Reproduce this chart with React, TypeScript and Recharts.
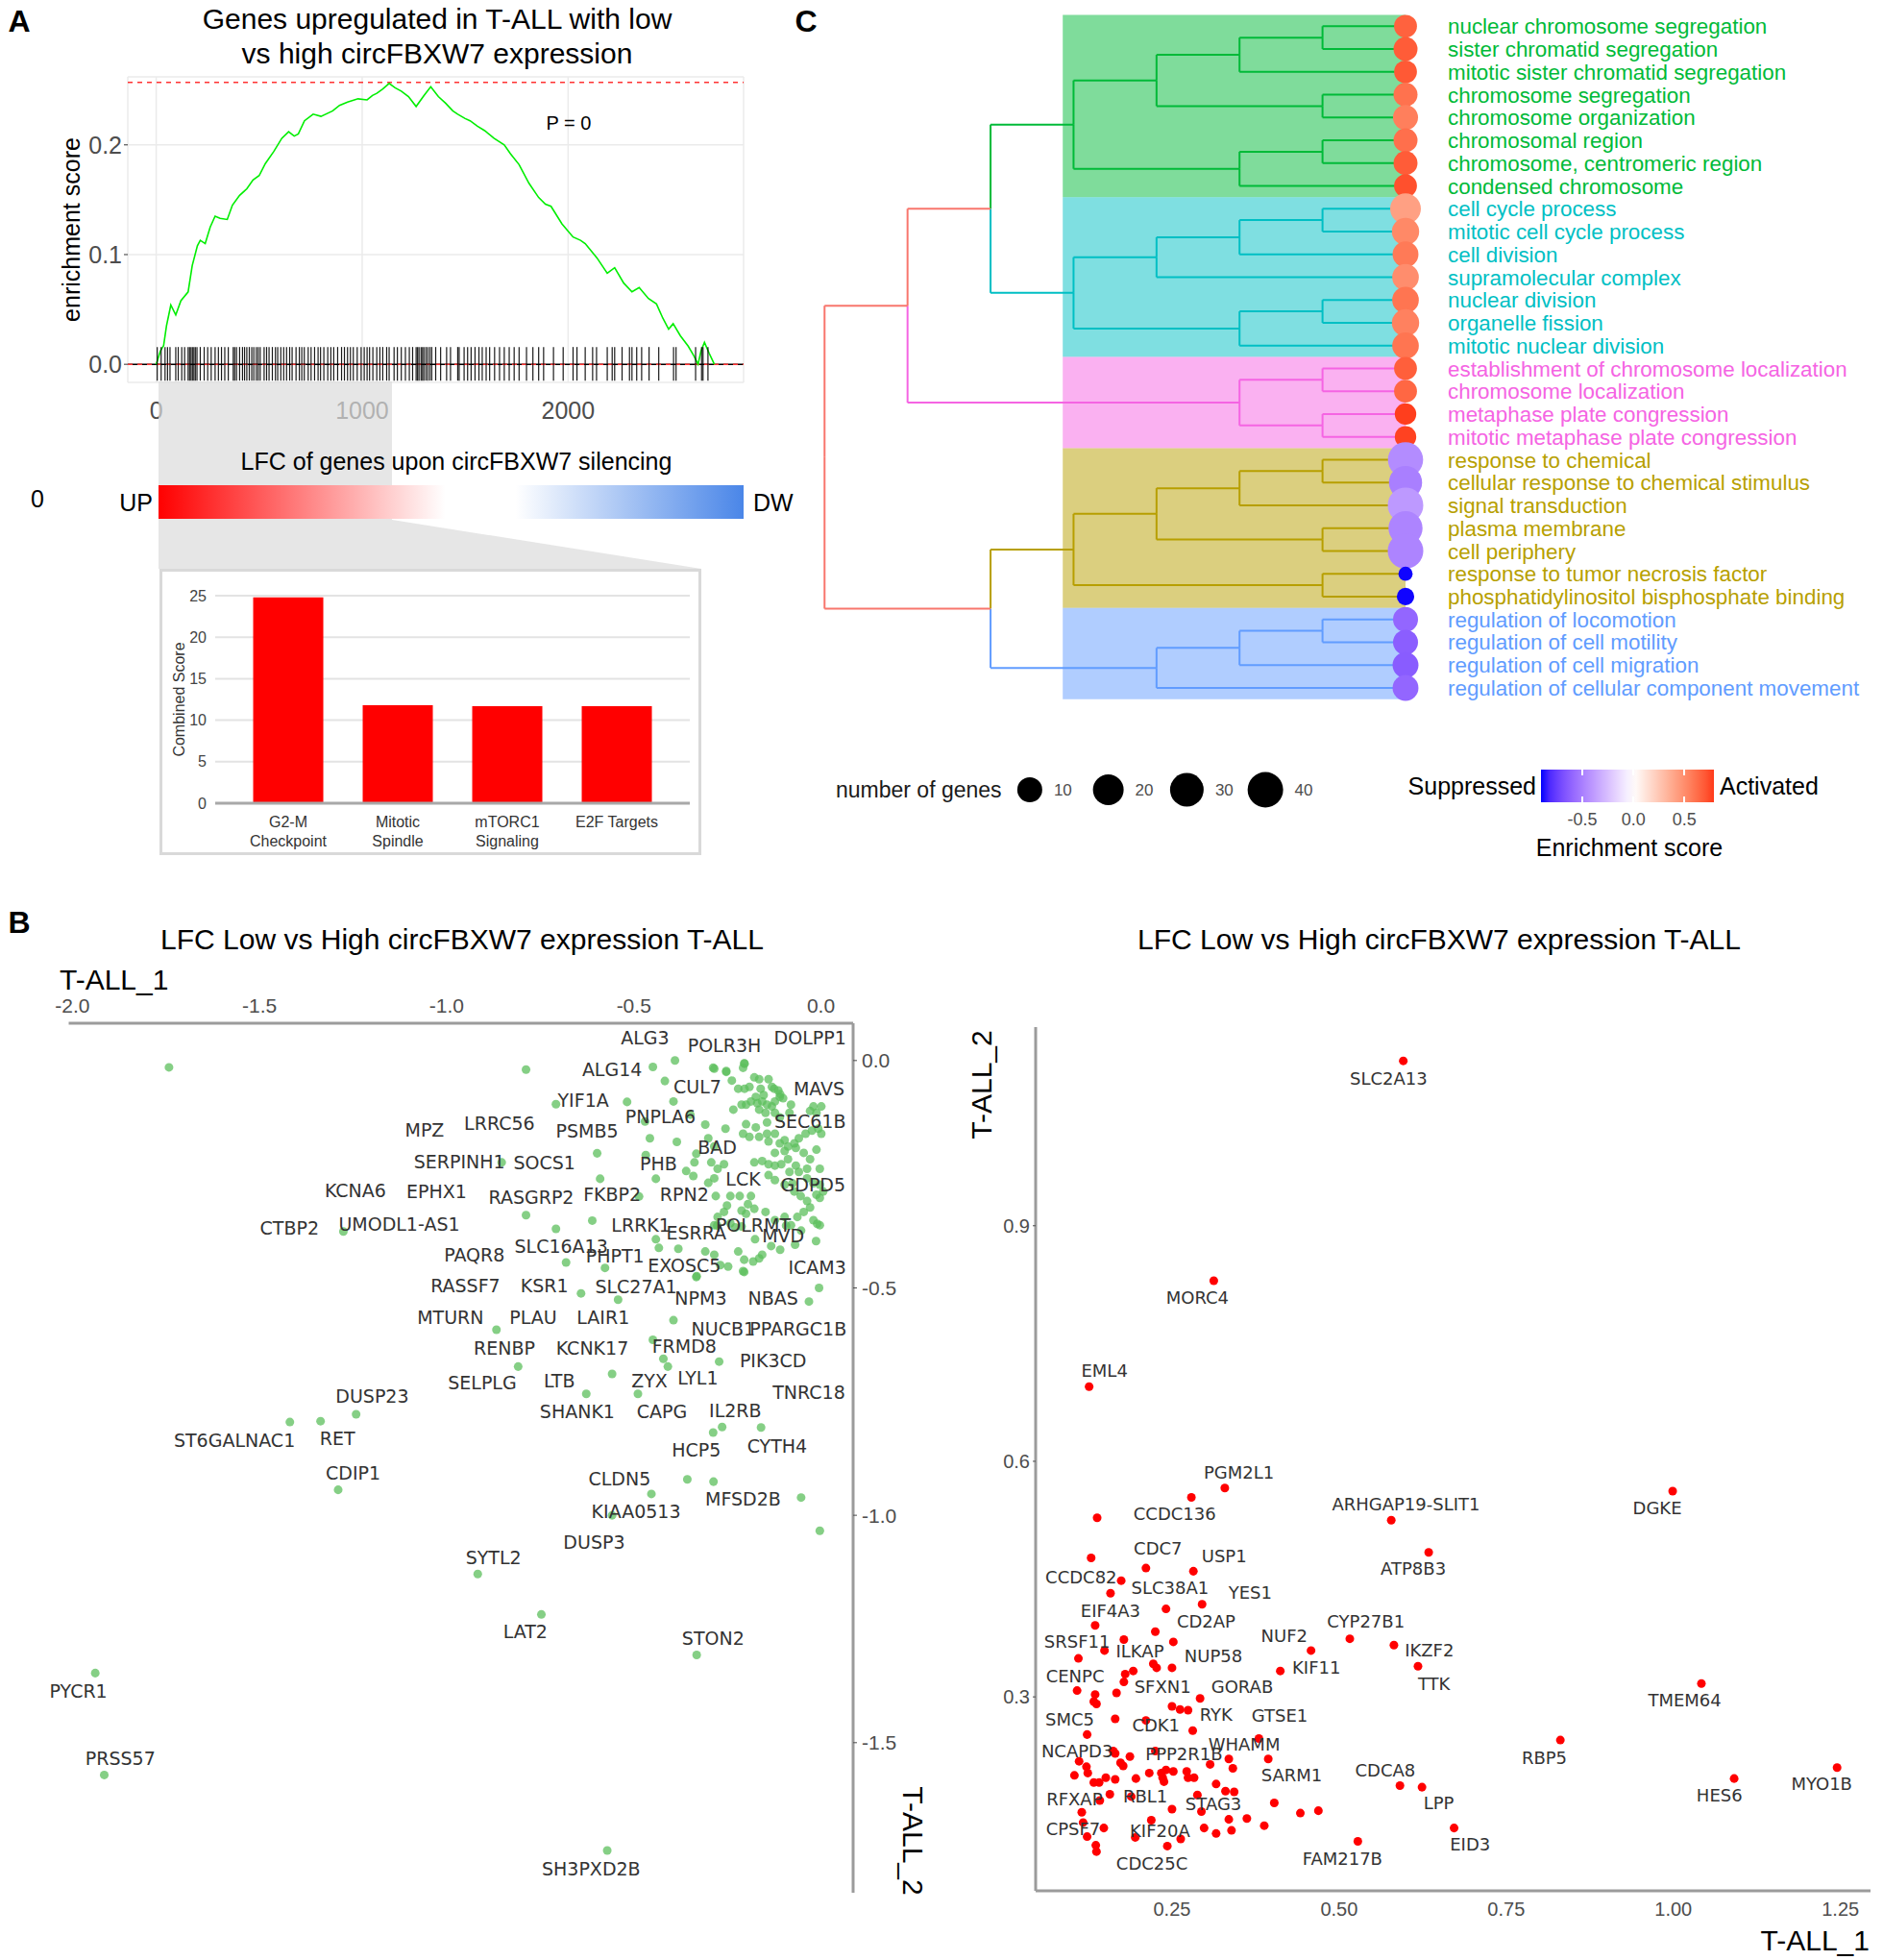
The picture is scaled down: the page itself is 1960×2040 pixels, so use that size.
import React from "react";
import {
  ComposedChart,
  BarChart,
  ScatterChart,
  Line,
  Bar,
  Scatter,
  Cell,
  XAxis,
  YAxis,
  ZAxis,
  CartesianGrid,
  ReferenceLine,
  ReferenceArea,
} from "recharts";

const SANS = '"Liberation Sans", Arial, sans-serif';
const DEJAVU = '"DejaVu Sans", sans-serif';

type Pt = [number, number];
type Lab = [string, number, number];

// ---------- panel A: running enrichment score (rank, ES)
const esCurve: Pt[] = [
  [0, 0], [20, 0.012], [36, 0.017], [50, 0.035], [71, 0.054], [95, 0.045], [120, 0.058],
  [155, 0.066], [175, 0.09], [200, 0.108], [214, 0.113], [238, 0.11], [262, 0.125],
  [286, 0.135], [310, 0.133], [345, 0.132], [370, 0.145], [405, 0.154], [440, 0.16],
  [470, 0.168], [500, 0.172], [530, 0.183], [571, 0.194], [610, 0.206], [643, 0.212],
  [670, 0.208], [690, 0.21], [720, 0.222], [762, 0.228], [800, 0.226], [857, 0.231],
  [890, 0.236], [929, 0.239], [980, 0.242], [1024, 0.241], [1050, 0.245], [1071, 0.247],
  [1100, 0.251], [1131, 0.256], [1160, 0.252], [1190, 0.249], [1225, 0.244], [1262, 0.235],
  [1300, 0.245], [1333, 0.253], [1370, 0.244], [1405, 0.238], [1440, 0.231], [1464, 0.228],
  [1500, 0.224], [1524, 0.222], [1560, 0.217], [1595, 0.213], [1640, 0.206], [1690, 0.2],
  [1720, 0.192], [1762, 0.182], [1810, 0.165], [1857, 0.152], [1890, 0.146], [1917, 0.144],
  [1970, 0.128], [2024, 0.116], [2060, 0.113], [2083, 0.11], [2140, 0.097], [2190, 0.083],
  [2226, 0.088], [2270, 0.074], [2310, 0.066], [2345, 0.07], [2390, 0.06], [2429, 0.055],
  [2460, 0.042], [2488, 0.032], [2510, 0.037], [2545, 0.026], [2583, 0.0165], [2610, 0.008],
  [2631, 0], [2645, 0.012], [2662, 0.02], [2685, 0.01], [2710, 0],
];
const esPeak = 0.257;
const hitRanks = [
  5, 24, 43, 55, 67, 95, 107, 124, 138, 155, 162, 169, 176, 183, 190, 198, 214, 233, 250,
  267, 286, 302, 317, 333, 350, 374, 381, 390, 405, 419, 429, 440, 452, 464, 474, 486, 495,
  505, 524, 536, 548, 564, 579, 590, 605, 619, 633, 648, 660, 679, 695, 707, 719, 738, 752,
  769, 786, 798, 814, 833, 848, 862, 881, 900, 914, 929, 943, 957, 976, 995, 1010, 1024,
  1036, 1052, 1071, 1086, 1100, 1119, 1131, 1155, 1171, 1190, 1210, 1229, 1245, 1262, 1269,
  1276, 1286, 1293, 1300, 1310, 1319, 1329, 1338, 1357, 1381, 1410, 1429, 1464, 1471, 1495,
  1512, 1529, 1548, 1567, 1583, 1602, 1619, 1643, 1667, 1690, 1714, 1738, 1762, 1798, 1829,
  1857, 1881, 1929, 1976, 2024, 2043, 2083, 2119, 2138, 2190, 2214, 2226, 2262, 2298, 2310,
  2333, 2357, 2393, 2440, 2512, 2524, 2619, 2648, 2655, 2679,
];
const esTicksX = [0, 1000, 2000];
const esTicksY = [0, 0.1, 0.2];

// ---------- panel A: hallmark enrichment
const hallmarkNames = ["G2-M\nCheckpoint", "Mitotic\nSpindle", "mTORC1\nSignaling", "E2F Targets"];
const hallmarkScores = [24.8, 11.8, 11.7, 11.7];
const scoreTicks = [0, 5, 10, 15, 20, 25];

// ---------- panel C: GO term tree
const termNames = [
  "nuclear chromosome segregation", "sister chromatid segregation",
  "mitotic sister chromatid segregation", "chromosome segregation", "chromosome organization",
  "chromosomal region", "chromosome, centromeric region", "condensed chromosome",
  "cell cycle process", "mitotic cell cycle process", "cell division", "supramolecular complex",
  "nuclear division", "organelle fission", "mitotic nuclear division",
  "establishment of chromosome localization", "chromosome localization",
  "metaphase plate congression", "mitotic metaphase plate congression", "response to chemical",
  "cellular response to chemical stimulus", "signal transduction", "plasma membrane",
  "cell periphery", "response to tumor necrosis factor",
  "phosphatidylinositol bisphosphate binding", "regulation of locomotion",
  "regulation of cell motility", "regulation of cell migration",
  "regulation of cellular component movement",
];
const termCluster = [0, 0, 0, 0, 0, 0, 0, 0, 1, 1, 1, 1, 1, 1, 1, 2, 2, 2, 2, 3, 3, 3, 3, 3, 3, 3, 4, 4, 4, 4];
const termGenes = [8, 9, 8, 9, 10, 9, 9, 8, 20, 13, 11, 12, 12, 13, 12, 8, 8, 7, 7, 38, 28, 40, 32, 40, 4, 5, 10, 10, 11, 11];
const termES = [
  0.67, 0.69, 0.7, 0.61, 0.56, 0.62, 0.69, 0.73, 0.42, 0.52, 0.58, 0.5, 0.6, 0.55, 0.6,
  0.68, 0.65, 0.78, 0.77, -0.45, -0.5, -0.4, -0.48, -0.48, -0.9, -0.9, -0.6, -0.63, -0.64, -0.6,
];
// [child a, child b, height]; leaves are 0..29, merged nodes continue from 30
const merges: [number, number, number][] = [
  [0, 1, 1], [30, 2, 2], [3, 4, 1], [31, 32, 3], [5, 6, 1], [34, 7, 2], [33, 35, 4],
  [8, 9, 1], [37, 10, 2], [38, 11, 3], [12, 13, 1], [40, 14, 2], [39, 41, 4], [36, 42, 5],
  [15, 16, 1], [17, 18, 1], [44, 45, 2], [43, 46, 6],
  [19, 20, 1], [48, 21, 2], [22, 23, 1], [49, 50, 3], [24, 25, 1], [51, 52, 4],
  [26, 27, 1], [54, 28, 2], [55, 29, 3], [53, 56, 5], [47, 57, 7],
];
const clusterColors = ["#00BA38", "#00BFC4", "#F564E3", "#B79F00", "#619CFF"];
const rootColor = "#F8766D";
const geneSizeKeys = [10, 20, 30, 40];
const esBarTicks = [-0.5, 0, 0.5];

// ---------- panel B left: T-ALL_1 vs T-ALL_2 (down)
const greenPts: Pt[] = [
  [-1.742, -0.015], [-0.788, -0.02], [-1.276, -0.376], [-0.788, -0.34], [-0.708, -0.096],
  [-0.518, -0.091], [-0.853, -0.224], [-0.598, -0.204], [-0.59, -0.26], [-0.611, -0.352],
  [-0.708, -0.37], [-0.681, -0.444], [-0.577, -0.456], [-0.641, -0.512], [-0.542, -0.526],
  [-0.867, -0.592], [-0.394, -0.571], [-0.809, -0.673], [-0.558, -0.689], [-0.449, -0.614],
  [-0.421, -0.656], [-0.409, -0.673], [-0.272, -0.662], [-0.627, -0.733], [-0.489, -0.733],
  [-1.242, -0.778], [-1.419, -0.795], [-1.337, -0.793], [-0.16, -0.807], [-0.005, -0.5],
  [-0.032, -0.53], [-0.332, -0.474], [-0.205, -0.465], [-0.449, -0.014], [-0.39, 0],
  [-0.417, -0.045], [-0.394, -0.09], [-0.47, -0.134], [-0.457, -0.171], [-0.385, -0.179],
  [-0.468, -0.208], [-0.441, -0.26], [-0.36, -0.243], [-0.338, -0.224], [-0.486, -0.299],
  [-0.441, -0.393], [-0.381, -0.414], [-0.433, -0.412], [-0.288, -0.016], [-0.205, -0.006],
  [-0.253, -0.025], [-1.29, -0.944], [-0.288, -0.818], [-0.264, -0.806], [-0.357, -0.921],
  [-0.287, -0.926], [-0.453, -0.953], [-0.053, -0.961], [-0.558, -1.0], [-0.003, -1.034],
  [-0.917, -1.129], [-0.747, -1.218], [-0.332, -1.307], [-1.939, -1.347], [-1.915, -1.571],
  [-0.571, -1.737],
  [-0.204, -0.007], [-0.285, -0.018], [-0.253, -0.023], [-0.208, -0.016], [-0.178, -0.037],
  [-0.165, -0.041], [-0.14, -0.041], [-0.238, -0.044], [-0.221, -0.062], [-0.204, -0.062],
  [-0.191, -0.058], [-0.161, -0.062], [-0.131, -0.058], [-0.114, -0.066], [-0.11, -0.08],
  [-0.101, -0.083], [-0.153, -0.076], [-0.174, -0.08], [-0.187, -0.09], [-0.2, -0.097],
  [-0.212, -0.097], [-0.234, -0.108], [-0.17, -0.094], [-0.157, -0.09], [-0.144, -0.097],
  [-0.131, -0.101], [-0.123, -0.09], [-0.08, -0.097], [-0.02, -0.101], [0.001, -0.101],
  [-0.012, -0.115], [-0.029, -0.111], [-0.148, -0.115], [-0.165, -0.108], [-0.123, -0.115],
  [-0.11, -0.125], [-0.084, -0.115], [-0.2, -0.14], [-0.174, -0.147], [-0.144, -0.136],
  [-0.255, -0.15], [-0.208, -0.161], [-0.191, -0.168], [-0.165, -0.168], [-0.144, -0.161],
  [-0.123, -0.161], [-0.097, -0.175], [-0.088, -0.189], [-0.071, -0.182], [-0.059, -0.171],
  [-0.041, -0.161], [-0.024, -0.154], [-0.007, -0.15], [0.001, -0.161], [-0.067, -0.192],
  [-0.046, -0.203], [-0.012, -0.196], [-0.11, -0.182], [-0.097, -0.199], [-0.14, -0.178],
  [-0.123, -0.203], [-0.178, -0.224], [-0.157, -0.221], [-0.14, -0.228], [-0.123, -0.231],
  [-0.106, -0.228], [-0.088, -0.217], [-0.067, -0.231], [-0.084, -0.245], [-0.059, -0.245],
  [-0.037, -0.238], [-0.003, -0.238], [-0.029, -0.217], [-0.285, -0.189], [-0.276, -0.238],
  [-0.285, -0.259], [-0.259, -0.228], [-0.14, -0.252], [-0.123, -0.263], [-0.097, -0.273],
  [-0.076, -0.27], [-0.037, -0.259], [-0.02, -0.27], [-0.003, -0.273], [0.006, -0.288],
  [-0.012, -0.295], [-0.003, -0.302], [-0.071, -0.288], [-0.054, -0.298], [-0.037, -0.309],
  [-0.029, -0.323], [-0.046, -0.333], [-0.063, -0.344], [-0.02, -0.351], [-0.003, -0.362],
  [-0.08, -0.362], [-0.097, -0.344], [-0.123, -0.351], [-0.148, -0.333], [-0.178, -0.326],
  [-0.195, -0.316], [-0.212, -0.33], [-0.2, -0.337], [-0.242, -0.298], [-0.217, -0.298],
  [-0.187, -0.298], [-0.281, -0.298], [-0.251, -0.319], [-0.259, -0.333], [-0.276, -0.344],
  [-0.285, -0.362], [-0.242, -0.358], [-0.212, -0.365],
  [-0.277, -0.363], [-0.229, -0.367], [-0.176, -0.393], [-0.133, -0.408], [-0.157, -0.427],
  [-0.205, -0.438], [-0.221, -0.42], [-0.109, -0.416], [-0.069, -0.405], [-0.013, -0.397],
  [-0.053, -0.374], [-0.093, -0.363], [-0.01, -0.359], [-0.269, -0.45], [-0.248, -0.453],
  [-0.208, -0.463], [-0.165, -0.435], [-0.181, -0.442], [-0.285, -0.427], [-0.309, -0.42],
  [-0.333, -0.476], [-0.349, -0.119], [-0.309, -0.141], [-0.301, -0.171], [-0.333, -0.205],
  [-0.293, -0.224], [-0.341, -0.254], [-0.301, -0.269], [-0.125, -0.062], [-0.109, -0.074],
];
const leftLabels: Lab[] = [
  ["ALG3", -0.47, 0.05], ["POLR3H", -0.258, 0.033], ["DOLPP1", -0.029, 0.05],
  ["ALG14", -0.558, -0.02], ["CUL7", -0.33, -0.057], ["MAVS", -0.005, -0.061],
  ["YIF1A", -0.635, -0.087], ["PNPLA6", -0.429, -0.124], ["SEC61B", -0.029, -0.134],
  ["MPZ", -1.059, -0.153], ["LRRC56", -0.859, -0.138], ["PSMB5", -0.625, -0.155],
  ["BAD", -0.277, -0.19], ["SERPINH1", -0.966, -0.222], ["SOCS1", -0.739, -0.224],
  ["PHB", -0.434, -0.226], ["LCK", -0.208, -0.26], ["GDPD5", -0.021, -0.273],
  ["KCNA6", -1.244, -0.286], ["EPHX1", -1.027, -0.289], ["RASGRP2", -0.774, -0.301],
  ["FKBP2", -0.558, -0.295], ["RPN2", -0.365, -0.295], ["CTBP2", -1.42, -0.369],
  ["UMODL1-AS1", -1.127, -0.359], ["LRRK1", -0.481, -0.363], ["ESRRA", -0.333, -0.378],
  ["POLRMT", -0.181, -0.363], ["MVD", -0.101, -0.386], ["PAQR8", -0.926, -0.427],
  ["SLC16A13", -0.694, -0.408], ["PHPT1", -0.55, -0.429], ["EXOSC5", -0.365, -0.45],
  ["ICAM3", -0.01, -0.456], ["RASSF7", -0.95, -0.496], ["KSR1", -0.739, -0.496],
  ["SLC27A1", -0.494, -0.498], ["NPM3", -0.321, -0.523], ["NBAS", -0.128, -0.523],
  ["MTURN", -0.99, -0.565], ["PLAU", -0.769, -0.565], ["LAIR1", -0.582, -0.565],
  ["NUCB1", -0.261, -0.591], ["PPARGC1B", -0.061, -0.591], ["RENBP", -0.846, -0.632],
  ["KCNK17", -0.611, -0.632], ["FRMD8", -0.365, -0.628], ["PIK3CD", -0.128, -0.66],
  ["SELPLG", -0.905, -0.709], ["LTB", -0.699, -0.705], ["ZYX", -0.458, -0.704],
  ["LYL1", -0.329, -0.698], ["TNRC18", -0.032, -0.73], ["DUSP23", -1.199, -0.738],
  ["SHANK1", -0.651, -0.771], ["CAPG", -0.425, -0.771], ["IL2RB", -0.229, -0.769],
  ["ST6GALNAC1", -1.567, -0.835], ["RET", -1.292, -0.832], ["HCP5", -0.333, -0.857],
  ["CYTH4", -0.117, -0.847], ["CDIP1", -1.25, -0.908], ["CLDN5", -0.538, -0.92],
  ["MFSD2B", -0.208, -0.965], ["KIAA0513", -0.494, -0.991], ["DUSP3", -0.606, -1.059],
  ["SYTL2", -0.875, -1.092], ["LAT2", -0.79, -1.256], ["STON2", -0.288, -1.271],
  ["PYCR1", -1.984, -1.387], ["PRSS57", -1.872, -1.534], ["SH3PXD2B", -0.614, -1.777],
];
const leftTicksX = [-2, -1.5, -1, -0.5, 0];
const leftTicksY = [0, -0.5, -1, -1.5];

// ---------- panel B right: T-ALL_1 vs T-ALL_2 (up)
const redPts: Pt[] = [
  [0.596, 1.11], [0.3125, 0.83], [0.126, 0.695], [0.329, 0.566], [0.279, 0.554], [0.138, 0.528],
  [0.578, 0.525], [0.999, 0.562], [0.634, 0.484], [0.129, 0.477], [0.211, 0.464], [0.282, 0.46],
  [0.174, 0.448], [0.158, 0.432], [0.295, 0.418], [0.241, 0.412], [0.252, 0.37], [0.135, 0.391],
  [0.225, 0.383], [0.516, 0.374], [0.458, 0.359], [0.582, 0.366], [0.178, 0.373], [0.149, 0.359],
  [0.11, 0.349], [0.222, 0.342], [0.227, 0.337], [0.25, 0.337], [0.412, 0.333], [0.618, 0.339],
  [0.192, 0.333], [0.18, 0.329], [0.178, 0.319], [1.042, 0.317], [0.108, 0.308], [0.135, 0.303],
  [0.167, 0.305], [0.133, 0.294], [0.137, 0.291], [0.292, 0.298], [0.25, 0.288], [0.262, 0.284],
  [0.274, 0.283], [0.165, 0.272], [0.211, 0.27], [0.281, 0.257], [0.123, 0.252], [0.831, 0.245],
  [0.38, 0.247], [0.162, 0.231], [0.165, 0.228], [0.187, 0.224], [0.173, 0.216], [0.177, 0.212],
  [0.111, 0.218], [0.225, 0.231], [0.335, 0.221], [0.394, 0.221], [0.307, 0.214], [0.341, 0.209],
  [1.245, 0.21], [1.091, 0.196], [0.122, 0.211], [0.124, 0.203], [0.104, 0.2], [0.133, 0.191],
  [0.141, 0.191], [0.151, 0.197], [0.165, 0.195], [0.196, 0.196], [0.216, 0.203], [0.234, 0.203],
  [0.241, 0.207], [0.252, 0.205], [0.236, 0.197], [0.238, 0.192], [0.272, 0.205], [0.274, 0.197],
  [0.283, 0.197], [0.316, 0.189], [0.33, 0.18], [0.343, 0.179], [0.624, 0.185], [0.591, 0.187],
  [0.142, 0.168], [0.157, 0.176], [0.189, 0.173], [0.288, 0.175], [0.25, 0.157], [0.294, 0.154],
  [0.403, 0.165], [0.442, 0.152], [0.469, 0.155], [0.115, 0.153], [0.117, 0.14], [0.148, 0.133],
  [0.123, 0.122], [0.219, 0.143], [0.195, 0.121], [0.263, 0.119], [0.335, 0.144], [0.362, 0.145],
  [0.388, 0.136], [0.298, 0.133], [0.339, 0.13], [0.316, 0.126], [0.672, 0.133], [0.528, 0.116],
  [0.243, 0.11], [0.136, 0.111], [0.137, 0.103],
];
const rightLabels: Lab[] = [
  ["SLC2A13", 0.574, 1.088], ["MORC4", 0.288, 0.808], ["EML4", 0.149, 0.715],
  ["PGM2L1", 0.35, 0.586], ["CCDC136", 0.254, 0.533], ["ARHGAP19-SLIT1", 0.6, 0.545],
  ["DGKE", 0.976, 0.541], ["ATP8B3", 0.611, 0.4635], ["CDC7", 0.229, 0.489],
  ["USP1", 0.328, 0.479], ["CCDC82", 0.114, 0.452], ["SLC38A1", 0.247, 0.439],
  ["YES1", 0.367, 0.433], ["EIF4A3", 0.158, 0.41], ["CD2AP", 0.301, 0.396],
  ["CYP27B1", 0.54, 0.396], ["NUF2", 0.418, 0.378], ["IKZF2", 0.635, 0.359],
  ["SRSF11", 0.108, 0.37], ["ILKAP", 0.202, 0.358], ["NUP58", 0.312, 0.352],
  ["KIF11", 0.466, 0.337], ["TTK", 0.642, 0.317], ["CENPC", 0.105, 0.327],
  ["SFXN1", 0.236, 0.313], ["GORAB", 0.355, 0.313], ["TMEM64", 1.017, 0.296],
  ["RYK", 0.316, 0.277], ["GTSE1", 0.411, 0.276], ["SMC5", 0.097, 0.271],
  ["CDK1", 0.226, 0.264], ["RBP5", 0.807, 0.223], ["WHAMM", 0.358, 0.24],
  ["NCAPD3", 0.108, 0.231], ["PPP2R1B", 0.268, 0.227], ["SARM1", 0.429, 0.2],
  ["CDCA8", 0.569, 0.207], ["MYO1B", 1.222, 0.189], ["HES6", 1.069, 0.175],
  ["LPP", 0.649, 0.165], ["RFXAP", 0.104, 0.17], ["RBL1", 0.21, 0.173],
  ["STAG3", 0.312, 0.164], ["CPSF7", 0.102, 0.132], ["KIF20A", 0.232, 0.129],
  ["EID3", 0.696, 0.112], ["FAM217B", 0.505, 0.094], ["CDC25C", 0.22, 0.088],
];
const rightTicksX = [0.25, 0.5, 0.75, 1, 1.25];
const rightTicksY = [0.3, 0.6, 0.9];

// ---------- colour scale for enrichment score (Lab interpolation like ggplot)
const lin = (c: number) => {
  c /= 255;
  return c <= 0.04045 ? c / 12.92 : Math.pow((c + 0.055) / 1.055, 2.4);
};
const gam = (c: number) => {
  const v = c <= 0.0031308 ? 12.92 * c : 1.055 * Math.pow(c, 1 / 2.4) - 0.055;
  return Math.round(Math.min(1, Math.max(0, v)) * 255);
};
const fLab = (t: number) => (t > 0.008856 ? Math.cbrt(t) : 7.787 * t + 16 / 116);
const fInv = (t: number) => (t * t * t > 0.008856 ? t * t * t : (t - 16 / 116) / 7.787);
function toLab(hex: string) {
  const r = lin(parseInt(hex.slice(1, 3), 16));
  const g = lin(parseInt(hex.slice(3, 5), 16));
  const b = lin(parseInt(hex.slice(5, 7), 16));
  const fx = fLab((0.4124 * r + 0.3576 * g + 0.1805 * b) / 0.95047);
  const fy = fLab(0.2126 * r + 0.7152 * g + 0.0722 * b);
  const fz = fLab((0.0193 * r + 0.1192 * g + 0.9505 * b) / 1.08883);
  return [116 * fy - 16, 500 * (fx - fy), 200 * (fy - fz)];
}
function fromLab(l: number[]) {
  const fy = (l[0] + 16) / 116;
  const X = 0.95047 * fInv(fy + l[1] / 500);
  const Y = fInv(fy);
  const Z = 1.08883 * fInv(fy - l[2] / 200);
  const r = 3.2406 * X - 1.5372 * Y - 0.4986 * Z;
  const g = -0.9689 * X + 1.8758 * Y + 0.0415 * Z;
  const b = 0.0557 * X - 0.204 * Y + 1.057 * Z;
  return `rgb(${gam(r)},${gam(g)},${gam(b)})`;
}
const ES_LO = -0.906;
const ES_HI = 0.79;
const LAB_LO = toLab("#0000ff");
const LAB_MID = toLab("#ffffff");
const LAB_HI = toLab("#ff3a1a");
function esColor(v: number) {
  const t = v < 0 ? Math.min(1, v / ES_LO) : Math.min(1, v / ES_HI);
  const end = v < 0 ? LAB_LO : LAB_HI;
  return fromLab(LAB_MID.map((m, i) => m + (end[i] - m) * t));
}

// ---------- small helpers
function Txt({ x, y, size = 25, anchor = "middle", rotate = 0, color = "#000", family = SANS, weight = 400, children }: any) {
  const tx = anchor === "start" ? "0%" : anchor === "end" ? "-100%" : "-50%";
  return (
    <div
      style={{
        position: "absolute",
        left: x,
        top: y,
        transform: `translate(${tx}, -50%) rotate(${rotate}deg)`,
        fontSize: size,
        fontFamily: family,
        fontWeight: weight,
        color,
        whiteSpace: "nowrap",
        lineHeight: 1.15,
      }}
    >
      {children}
    </div>
  );
}

const Abs = ({ x, y, children }: any) => (
  <div style={{ position: "absolute", left: x, top: y }}>{children}</div>
);

const HitTick = (p: any) => (
  <line x1={p.cx} x2={p.cx} y1={p.cy - 18} y2={p.cy + 17} stroke="#000" strokeOpacity={0.9} strokeWidth={1.2} />
);

const geneLabel = (size: number) => (p: any) => (
  <text x={p.cx} y={p.cy} dy="0.36em" textAnchor="middle" fontSize={size} fontFamily={DEJAVU} fill="#333">
    {p.payload?.gene ?? p.gene}
  </text>
);

const BarTick = (p: any) => {
  const lines = String(p.payload.value).split("\n");
  return (
    <g>
      {lines.map((l, i) => (
        <text key={i} x={p.x} y={p.y + 25 + i * 20} textAnchor="middle" fontSize={16} fill="#333" fontFamily={SANS}>
          {l}
        </text>
      ))}
    </g>
  );
};

const TermTick = (p: any) => {
  const i = Math.round(p.payload.value) - 1;
  if (i < 0 || i >= termNames.length) return null;
  return (
    <text x={p.x} y={p.y} dy="0.36em" fontSize={22.4} fontFamily={SANS} fill={clusterColors[termCluster[i]]}>
      {termNames[i]}
    </text>
  );
};

const SizeKey = (p: any) => {
  const r = p.width ? p.width / 2 : Math.sqrt((p.size || 64) / Math.PI);
  return (
    <g>
      <circle cx={p.cx} cy={p.cy} r={r} fill="#000" />
      <text x={p.cx + r + 12} y={p.cy} dy="0.36em" fontSize={17} fill="#4d4d4d" fontFamily={SANS}>
        {p.payload?.genes ?? p.genes}
      </text>
    </g>
  );
};

// ---------- charts
function EnrichmentPlot() {
  const curve = esCurve.map(([x, y]) => ({ x, y }));
  const hits = hitRanks.map((x) => ({ x, y: 0 }));
  const tickStyle = { fontSize: 25, fill: "#4d4d4d", fontFamily: SANS };
  return (
    <ComposedChart width={800} height={440} data={curve} margin={{ top: 80, right: 26, bottom: 2, left: 73 }}>
      <CartesianGrid stroke="#ebebeb" strokeWidth={1.5} />
      <XAxis
        type="number"
        dataKey="x"
        domain={[-138, 2852]}
        ticks={esTicksX}
        height={40}
        axisLine={false}
        tickLine={false}
        tickSize={0}
        tickMargin={20}
        tick={tickStyle}
      />
      <YAxis
        type="number"
        dataKey="y"
        domain={[-0.0165, 0.262]}
        ticks={esTicksY}
        width={60}
        axisLine={false}
        tickSize={4}
        tickLine={{ stroke: "#333" }}
        tickMargin={2}
        tickFormatter={(v: number) => v.toFixed(1)}
        tick={tickStyle}
        label={{
          value: "enrichment score",
          angle: -90,
          position: "insideLeft",
          offset: 1,
          style: { textAnchor: "middle", fontSize: 25, fill: "#000", fontFamily: SANS },
        }}
      />
      <ReferenceLine y={0} stroke="#000" strokeWidth={1.5} />
      <ReferenceLine y={0} stroke="#ff3333" strokeWidth={1.5} strokeDasharray="5 5" />
      <ReferenceLine y={esPeak} stroke="#ff3333" strokeWidth={1.5} strokeDasharray="5 5" />
      <Scatter data={hits} dataKey="y" shape={HitTick} isAnimationActive={false} />
      <Line type="linear" dataKey="y" stroke="#00ee00" strokeWidth={1.6} dot={false} isAnimationActive={false} />
    </ComposedChart>
  );
}

function HallmarkBars() {
  const rows = hallmarkNames.map((name, i) => ({ name, score: hallmarkScores[i] }));
  return (
    <BarChart width={562} height={296} data={rows} margin={{ top: 28, right: 10, bottom: 0, left: 18 }} barCategoryGap="18%">
      <CartesianGrid vertical={false} stroke="#e3e3e3" strokeWidth={2} />
      <XAxis
        dataKey="name"
        interval={0}
        padding={{ left: 19, right: 19 }}
        height={52}
        axisLine={{ stroke: "#a8a8a8", strokeWidth: 3 }}
        tickLine={false}
        tickSize={0}
        tickMargin={0}
        tick={BarTick}
      />
      <YAxis
        type="number"
        domain={[0, 25]}
        ticks={scoreTicks}
        width={40}
        axisLine={false}
        tickLine={false}
        tickSize={0}
        tickMargin={9}
        tick={{ fontSize: 16, fill: "#444", fontFamily: SANS }}
        label={{
          value: "Combined Score",
          angle: -90,
          position: "insideLeft",
          offset: 2,
          style: { textAnchor: "middle", fontSize: 16, fill: "#333", fontFamily: SANS },
        }}
      />
      <Bar dataKey="score" fill="#ff0000" isAnimationActive={false} />
    </BarChart>
  );
}

function TermTree() {
  const nodeY: number[] = termNames.map((_, i) => i + 1);
  const nodeH: number[] = termNames.map(() => 0);
  const nodeCl: number[] = [...termCluster];
  const segs: { x1: number; y1: number; x2: number; y2: number; col: string }[] = [];
  merges.forEach(([a, b, h]) => {
    const y = (nodeY[a] + nodeY[b]) / 2;
    [a, b].forEach((c) => {
      const col = nodeCl[c] >= 0 ? clusterColors[nodeCl[c]] : rootColor;
      segs.push({ x1: nodeH[c], y1: nodeY[c], x2: h, y2: nodeY[c], col });
      segs.push({ x1: h, y1: nodeY[c], x2: h, y2: y, col });
    });
    nodeY.push(y);
    nodeH.push(h);
    nodeCl.push(nodeCl[a] === nodeCl[b] ? nodeCl[a] : -1);
  });
  const spans = clusterColors.map((col, k) => {
    const idx = termCluster.map((c, i) => (c === k ? i + 1 : -1)).filter((i) => i > 0);
    return { col, y1: Math.min(...idx) - 0.5, y2: Math.max(...idx) + 0.5 };
  });
  const leaves = termNames.map((_, i) => ({ h: 0, y: i + 1, genes: termGenes[i], es: termES[i] }));
  const ticks = termNames.map((_, i) => i + 1);
  return (
    <ScatterChart width={1119} height={760} margin={{ top: 15.4, right: 0, bottom: 32.2, left: 0 }}>
      <XAxis type="number" dataKey="h" domain={[0, 7.2]} reversed hide />
      <YAxis
        type="number"
        dataKey="y"
        domain={[0.5, 30.5]}
        reversed
        orientation="right"
        ticks={ticks}
        interval={0}
        width={497}
        axisLine={false}
        tickLine={false}
        tickSize={0}
        tickMargin={44}
        tick={TermTick}
      />
      <ZAxis type="number" dataKey="genes" domain={[3, 40]} range={[59, 1075]} scale="log" />
      {spans.map((s, k) => (
        <ReferenceArea key={`a${k}`} x1={0} x2={4.13} y1={s.y1} y2={s.y2} fill={s.col} fillOpacity={0.5} stroke="none" ifOverflow="visible" />
      ))}
      {segs.map((s, k) => (
        <ReferenceLine
          key={`s${k}`}
          segment={[{ x: s.x1, y: s.y1 }, { x: s.x2, y: s.y2 }]}
          stroke={s.col}
          strokeWidth={2}
          ifOverflow="visible"
        />
      ))}
      <Scatter data={leaves} isAnimationActive={false}>
        {leaves.map((l, i) => (
          <Cell key={i} fill={esColor(l.es)} />
        ))}
      </Scatter>
    </ScatterChart>
  );
}

function GeneSizeLegend() {
  const keys = geneSizeKeys.map((g) => ({ genes: g, v: 0.5 }));
  return (
    <ScatterChart width={380} height={44} margin={{ top: 0, right: 53, bottom: 0, left: 0 }}>
      <XAxis type="number" dataKey="genes" domain={[5, 45]} hide />
      <YAxis type="number" dataKey="v" domain={[0, 1]} hide />
      <ZAxis type="number" dataKey="genes" domain={[3, 40]} range={[59, 1075]} scale="log" />
      <Scatter data={keys} shape={SizeKey} isAnimationActive={false} />
    </ScatterChart>
  );
}

function LeftScatter() {
  const pts = greenPts.map(([x, y]) => ({ x, y }));
  const labs = leftLabels.map(([gene, x, y]) => ({ gene, x, y }));
  const tick = { fontSize: 21, fill: "#4d4d4d", fontFamily: SANS };
  return (
    <ScatterChart width={990} height={1050} margin={{ top: 35, right: 42, bottom: 70, left: 71.5 }}>
      <XAxis
        type="number"
        dataKey="x"
        orientation="top"
        domain={[-2.01, 0.086]}
        ticks={leftTicksX}
        height={40}
        axisLine={{ stroke: "#9b9b9b", strokeWidth: 3 }}
        tickLine={false}
        tickSize={0}
        tickMargin={11}
        tickFormatter={(v: number) => v.toFixed(1)}
        tick={tick}
      />
      <YAxis
        type="number"
        dataKey="y"
        orientation="right"
        domain={[-1.83, 0.082]}
        ticks={leftTicksY}
        width={60}
        axisLine={{ stroke: "#9b9b9b", strokeWidth: 3 }}
        tickSize={4}
        tickLine={{ stroke: "#4d4d4d" }}
        tickMargin={5}
        tickFormatter={(v: number) => v.toFixed(1)}
        tick={tick}
      />
      <ZAxis range={[64, 64]} />
      <Scatter data={pts} fill="rgba(92,191,92,0.75)" isAnimationActive={false} />
      <Scatter data={labs} shape={geneLabel(19)} isAnimationActive={false} />
    </ScatterChart>
  );
}

function RightScatter() {
  const pts = redPts.map(([x, y]) => ({ x, y }));
  const labs = rightLabels.map(([gene, x, y]) => ({ gene, x, y }));
  const tick = { fontSize: 20, fill: "#4d4d4d", fontFamily: SANS };
  return (
    <ScatterChart width={970} height={1050} margin={{ top: 79, right: 13, bottom: 32, left: 38 }}>
      <XAxis
        type="number"
        dataKey="x"
        domain={[0.046, 1.295]}
        ticks={rightTicksX}
        height={40}
        axisLine={{ stroke: "#9b9b9b", strokeWidth: 3 }}
        tickLine={false}
        tickSize={0}
        tickMargin={12}
        tickFormatter={(v: number) => v.toFixed(2)}
        tick={tick}
      />
      <YAxis
        type="number"
        dataKey="y"
        domain={[0.053, 1.153]}
        ticks={rightTicksY}
        width={50}
        axisLine={{ stroke: "#9b9b9b", strokeWidth: 3 }}
        tickSize={3}
        tickLine={{ stroke: "#4d4d4d" }}
        tickMargin={3}
        tickFormatter={(v: number) => v.toFixed(1)}
        tick={tick}
      />
      <ZAxis range={[78, 78]} />
      <Scatter data={pts} fill="#ff0000" isAnimationActive={false} />
      <Scatter data={labs} shape={geneLabel(18)} isAnimationActive={false} />
    </ScatterChart>
  );
}

function EsColorBar() {
  const x0 = 1604;
  const w = 180;
  const stops = Array.from({ length: 21 }, (_, k) => {
    const v = ES_LO + ((ES_HI - ES_LO) * k) / 20;
    return `${esColor(v)} ${(k * 5).toFixed(0)}%`;
  }).join(", ");
  const px = (v: number) => x0 + ((v - ES_LO) / (ES_HI - ES_LO)) * w;
  return (
    <>
      <div style={{ position: "absolute", left: x0, top: 801, width: w, height: 34, background: `linear-gradient(to right, ${stops})` }} />
      {esBarTicks.map((v) => (
        <React.Fragment key={v}>
          <div style={{ position: "absolute", left: px(v) - 1, top: 801, width: 2, height: 6, background: "#fff" }} />
          <div style={{ position: "absolute", left: px(v) - 1, top: 829, width: 2, height: 6, background: "#fff" }} />
          <Txt x={px(v)} y={853} size={18} color="#4d4d4d">
            {v.toFixed(1)}
          </Txt>
        </React.Fragment>
      ))}
    </>
  );
}

export default function App() {
  return (
    <div
      style={{
        position: "absolute",
        left: 0,
        top: 0,
        width: 1960,
        height: 2040,
        background: "#fff",
        overflow: "hidden",
        fontFamily: SANS,
      }}
    >
      {/* ---- panel A */}
      <Abs x={0} y={0}>
        <EnrichmentPlot />
      </Abs>
      <svg style={{ position: "absolute", left: 0, top: 0 }} width={800} height={620}>
        <polygon points="165,397 408,397 408,541 730,592 165,592" fill="rgb(220,220,220)" fillOpacity={0.7} />
      </svg>
      <Txt x={20} y={22} size={32} weight={700}>A</Txt>
      <Txt x={455} y={20} size={30}>Genes upregulated in T-ALL with low</Txt>
      <Txt x={455} y={56} size={30}>vs high circFBXW7 expression</Txt>
      <Txt x={592} y={128} size={20}>P = 0</Txt>
      <Txt x={475} y={480} size={25}>LFC of genes upon circFBXW7 silencing</Txt>
      <div
        style={{
          position: "absolute",
          left: 165,
          top: 505,
          width: 609,
          height: 35,
          background: "linear-gradient(to right, #ff0000 0%, #ffffff 49%, #ffffff 61%, #4a86e8 100%)",
        }}
      />
      <Txt x={39} y={519} size={25}>0</Txt>
      <Txt x={159} y={523} size={25} anchor="end">UP</Txt>
      <Txt x={784} y={523} size={25} anchor="start">DW</Txt>
      <div
        style={{
          position: "absolute",
          left: 166,
          top: 592,
          width: 558,
          height: 292,
          border: "3px solid #d9d9d9",
          background: "#fff",
        }}
      />
      <Abs x={166} y={592}>
        <HallmarkBars />
      </Abs>

      {/* ---- panel C */}
      <Txt x={839} y={22} size={32} weight={700}>C</Txt>
      <Abs x={841} y={0}>
        <TermTree />
      </Abs>
      <Txt x={870} y={822} size={23} anchor="start" color="#1a1a1a">number of genes</Txt>
      <Abs x={1031} y={800}>
        <GeneSizeLegend />
      </Abs>
      <Txt x={1599} y={818} size={25} anchor="end">Suppressed</Txt>
      <Txt x={1790} y={818} size={25} anchor="start">Activated</Txt>
      <EsColorBar />
      <Txt x={1696} y={882} size={25}>Enrichment score</Txt>

      {/* ---- panel B */}
      <Txt x={20} y={960} size={32} weight={700}>B</Txt>
      <Txt x={481} y={978} size={30}>LFC Low vs High circFBXW7 expression T-ALL</Txt>
      <Txt x={1498} y={978} size={30}>LFC Low vs High circFBXW7 expression T-ALL</Txt>
      <Abs x={0} y={990}>
        <LeftScatter />
      </Abs>
      <Abs x={990} y={990}>
        <RightScatter />
      </Abs>
      <Txt x={62} y={1020} size={30} anchor="start">T-ALL_1</Txt>
      <Txt x={950} y={1916} size={30} rotate={90}>T-ALL_2</Txt>
      <Txt x={1022} y={1129} size={30} rotate={-90}>T-ALL_2</Txt>
      <Txt x={1946} y={2020} size={30} anchor="end">T-ALL_1</Txt>
    </div>
  );
}
